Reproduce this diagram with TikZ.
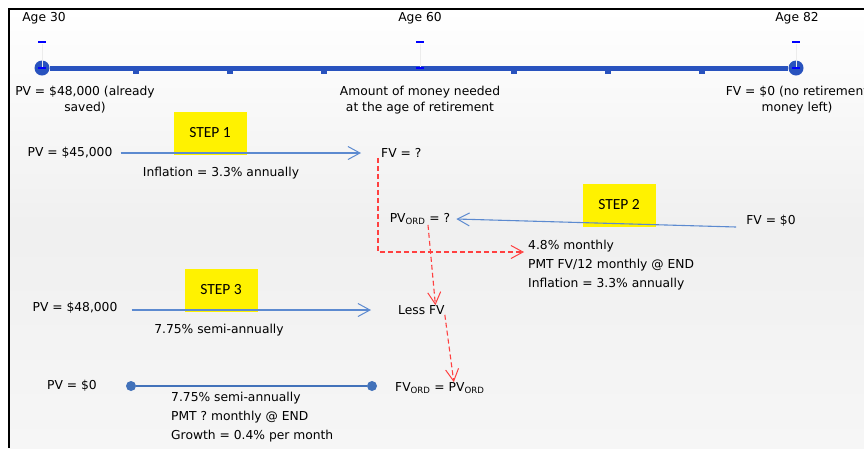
\documentclass[tikz,border=0pt]{standalone}
\usepackage{fontspec}
\setmainfont{DejaVu Sans}
\newfontfamily\stepfont{Carlito}
\usetikzlibrary{positioning,arrows.meta}

\definecolor{lineblue}{RGB}{40,82,190}
\definecolor{arrowblue}{RGB}{92,138,208}
\definecolor{dotblue}{RGB}{66,114,186}
\definecolor{dashred}{RGB}{255,64,64}

\begin{document}
\begin{tikzpicture}[
    x=1pt, y=-1pt,
    txt/.style={
        font=\fontsize{12.3}{16}\selectfont, inner sep=0pt,
        align=center
    },
    notes/.style={
        font=\fontsize{12.3}{19}\selectfont, inner sep=0pt,
        align=left, anchor=north west
    },
    stepbox/.style={
        rectangle, fill=yellow, inner sep=0pt,
        minimum width=73pt, minimum height=43pt,
        font=\stepfont\fontsize{15.5}{17}\selectfont
    },
    enddot/.style={
        circle, fill=lineblue, inner sep=0pt, minimum size=15pt
    },
    smalldot/.style={
        circle, fill=dotblue, inner sep=0pt, minimum size=10pt
    },
    flow/.style={
        arrowblue, line width=1.1pt,
        -{Straight Barb[length=12pt,width=13pt,line width=1pt]}
    },
    redflow/.style={
        dashred, line width=1.1pt, dash pattern=on 5pt off 3pt,
        -{Straight Barb[length=12pt,width=13pt,line width=1pt]}
    }
]

\useasboundingbox (0,0) rectangle (864,448);

%% Background and frame
\fill[white] (0,0) rectangle (864,448);
\shade[top color=white, bottom color=gray!7, middle color=gray!12]
    (9,9) rectangle (864,448);
\draw[line width=2pt] (9,448) -- (9,9) -- (864,9);

%% Timeline
\node[enddot] (t30) at (42,68) {};
\node[enddot] (t82) at (796,68) {};
\draw[lineblue, line width=5pt] (t30) -- (t82);
\foreach \x in {136,230,324,514,608,702}
    \fill[lineblue] (\x-3,69) rectangle (\x+3,74);
\foreach \x in {42,420,796} {
    \draw[white!85!gray, line width=0.6pt] (\x,44) -- (\x,67);
    \draw[blue, line width=2.2pt] (\x-4,42) -- (\x+4,42);
    \draw[blue, line width=2.2pt] (\x-4,68) -- (\x+4,68);
}

%% Timeline labels
\node[txt] (age30) at (44,18) {Age 30};
\node[txt] (age60) at (420,18) {Age 60};
\node[txt] (age82) at (797,18) {Age 82};
\node[txt] (saved) at (85,100) {PV = \$48,000 (already\\saved)};
\node[txt] (needed) at (420,100) {Amount of money needed\\at the age of retirement};
\node[txt] (noleft) at (797,100) {FV = \$0 (no retirement\\money left)};

%% Step 1
\node[stepbox] (step1) at (210,133) {STEP 1};
\node[txt] (pvA) at (70,153) {PV = \$45,000};
\node[txt, anchor=west] (fvQ) at (381,153) {FV = ?};
\node[txt] (inflA) at (221,173) {Inflation = 3.3\% annually};
\draw[flow, shorten <=8pt, shorten >=20pt] (pvA.east) -- (fvQ.west);

%% Step 2
\node[stepbox] (step2) at (619,205) {STEP 2};
\node[txt] (pvord) at (420,219) {PV\textsubscript{ORD} = ?};
\node[txt] (fvB) at (771,221) {FV = \$0};
\node[notes] (rates) at (528,240)
    {4.8\% monthly\\PMT FV/12 monthly @ END\\Inflation = 3.3\% annually};
\draw[flow] ([shift={(-10,6)}]fvB.west) -- ([xshift=6pt]pvord.east);
\coordinate (ratesin) at (524,252);
\draw[redflow] ([xshift=-3pt]fvQ.south west) |- (ratesin);

%% Step 3
\node[stepbox] (step3) at (221,290) {STEP 3};
\node[txt] (pvC) at (75,308) {PV = \$48,000};
\node[txt, anchor=west] (lessfv) at (398,310) {Less FV};
\node[txt] (semiA) at (219,330) {7.75\% semi-annually};
\draw[flow, shorten <=14pt, shorten >=27pt] (pvC.east |- lessfv.west) -- (lessfv.west);
\draw[redflow] ([xshift=8pt]pvord.south) -- ([xshift=14pt]lessfv.north);

%% Annuity line
\node[txt] (pvD) at (72,386) {PV = \$0};
\node[smalldot] (dotL) at (131,386) {};
\node[smalldot] (dotR) at (372,386) {};
\node[txt, anchor=west] (fvord) at (395,388) {FV\textsubscript{ORD} = PV\textsubscript{ORD}};
\draw[dotblue, line width=1.5pt] (dotL) -- (dotR);
\node[notes] (terms) at (171,392)
    {7.75\% semi-annually\\PMT ? monthly @ END\\Growth = 0.4\% per month};
\draw[redflow] (lessfv.south east) -- ([xshift=14pt]fvord.north);

\end{tikzpicture}
\end{document}
